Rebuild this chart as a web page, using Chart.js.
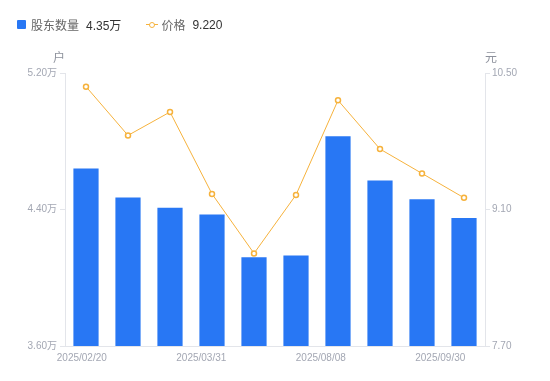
<!DOCTYPE html>
<html>
<head>
<meta charset="utf-8">
<script src="https://cdn.jsdelivr.net/npm/chart.js@4"></script>
<style>
  html, body { margin: 0; padding: 0; background: #fff; }
  #wrap { position: relative; width: 550px; height: 381px; }
  #legend { position: absolute; left: 17px; top: 16px; font: 12px "Liberation Sans", "Noto Sans CJK SC", sans-serif; color: #666; display: flex; align-items: center; }
  .item { display: flex; align-items: center; margin-right: 26px; }
  .sq { width: 9px; height: 9px; background: #2877f4; border-radius: 1px; margin-right: 5px; }
  .ln { position: relative; width: 10px; height: 10px; margin-right: 4px; }
  .ln::before { content: ""; position: absolute; left: -1px; right: -1px; top: 4.5px; height: 1px; background: #f6b23c; }
  .ln::after { content: ""; position: absolute; left: 2px; top: 2px; width: 4px; height: 4px; border: 1.5px solid #f6b23c; border-radius: 50%; background: #fff; }
  .val { color: #333; margin-left: 7px; }
</style>
</head>
<body>
<div id="wrap">
  <div id="legend">
    <div class="item"><span class="sq"></span>股东数量<span class="val" id="lgBar"></span></div>
    <div class="item"><span class="ln"></span>价格<span class="val" id="lgLine"></span></div>
  </div>
  <canvas id="chart" width="550" height="381"></canvas>
</div>
<script>
// dates of each report
const dates = ["2025/02/20", "2025/03/10", "2025/03/20", "2025/03/31", "2025/04/30",
               "2025/06/30", "2025/08/08", "2025/08/20", "2025/09/10", "2025/09/30"];
// shareholder count (万户)
const holders = [4.64, 4.47, 4.41, 4.37, 4.12, 4.13, 4.83, 4.57, 4.46, 4.35];
// price (元)
const prices = [10.36, 9.86, 10.10, 9.26, 8.65, 9.25, 10.22, 9.72, 9.47, 9.22];
const leftTicks = [3.60, 4.40, 5.20];
const rightTicks = [7.70, 9.10, 10.50];
// x labels shown under the axis
const shownLabels = ["2025/02/20", "2025/03/31", "2025/08/08", "2025/09/30"];

const font = { family: '"Liberation Sans", "Noto Sans CJK SC", sans-serif', size: 10 };
const tickColor = "#a3a7b3";
const lineColor = "#e3e5ea";

document.getElementById("lgBar").textContent = holders[holders.length - 1].toFixed(2) + "万";
document.getElementById("lgLine").textContent = prices[prices.length - 1].toFixed(3);

// axis units above the y axes
const unitPlugin = {
    id: "units",
    afterDraw(chart) {
        const ctx = chart.ctx;
        const ca = chart.chartArea;
        ctx.save();
        ctx.font = '12px "Noto Sans CJK SC", sans-serif';
        ctx.fillStyle = "#8d919c";
        ctx.textBaseline = "middle";
        ctx.textAlign = "center";
        ctx.fillText("户", ca.left - 6, ca.top - 16);
        ctx.fillText("元", ca.right + 6, ca.top - 16);
        ctx.restore();
    }
};

new Chart(document.getElementById("chart"), {
    data: {
        labels: dates,
        datasets: [
            {
                type: "line",
                label: "价格",
                data: prices,
                yAxisID: "y1",
                borderColor: "#f6b23c",
                borderWidth: 1,
                pointRadius: 2.5,
                pointBorderWidth: 1.5,
                pointBackgroundColor: "#fff",
                pointBorderColor: "#f6b23c",
                tension: 0,
                order: 0
            },
            {
                type: "bar",
                label: "股东数量",
                data: holders,
                yAxisID: "y",
                backgroundColor: "#2877f4",
                categoryPercentage: 1,
                barPercentage: 0.6,
                order: 1
            }
        ]
    },
    options: {
        responsive: false,
        animation: false,
        layout: { padding: { top: 73, left: 0, right: 0, bottom: 0 } },
        plugins: { legend: { display: false }, tooltip: { enabled: false } },
        scales: {
            x: {
                display: false,
                offset: true
            },
            xl: {
                type: "linear",
                position: "bottom",
                min: -0.5,
                max: dates.length - 0.5,
                afterFit: s => { s.height = 35; },
                afterBuildTicks: s => {
                    s.ticks = shownLabels.map((l, i) => ({ value: -0.1 + i * 2.845, label: l }));
                },
                ticks: { autoSkip: false, maxRotation: 0, color: tickColor, font: font, padding: 6,
                         callback: (v, i) => shownLabels[i] },
                grid: { display: false, drawTicks: false },
                border: { color: lineColor }
            },
            y: {
                position: "left",
                min: 3.6,
                max: 5.2,
                afterFit: s => { s.width = 65; },
                afterBuildTicks: s => { s.ticks = leftTicks.map(v => ({ value: v })); },
                ticks: { color: tickColor, font: font, padding: 3, callback: v => v.toFixed(2) + "万" },
                grid: { drawOnChartArea: false, tickLength: 5, color: lineColor },
                border: { color: lineColor }
            },
            y1: {
                position: "right",
                min: 7.7,
                max: 10.5,
                afterFit: s => { s.width = 65; },
                afterBuildTicks: s => { s.ticks = rightTicks.map(v => ({ value: v })); },
                ticks: { color: tickColor, font: font, padding: 2, callback: v => v.toFixed(2) },
                grid: { drawOnChartArea: false, tickLength: 5, color: lineColor },
                border: { color: lineColor }
            }
        }
    },
    plugins: [unitPlugin]
});
</script>
</body>
</html>
